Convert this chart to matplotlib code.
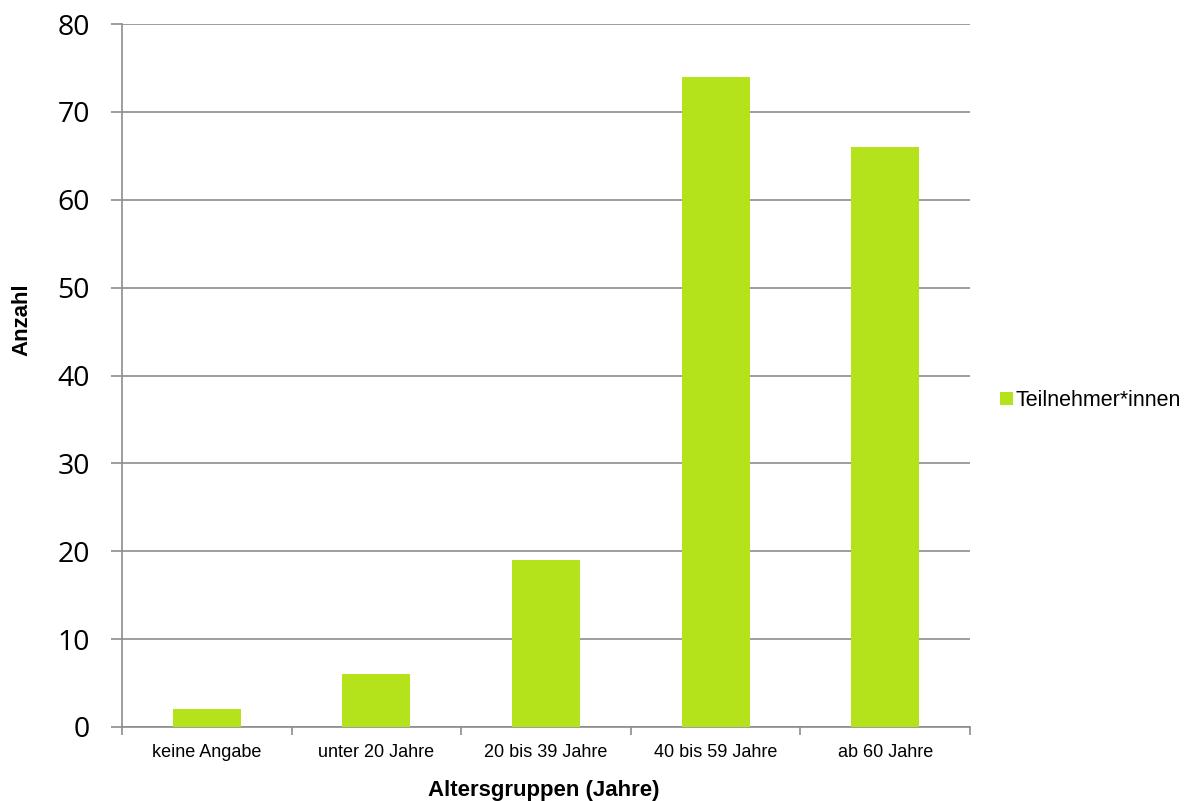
import numpy as np
import matplotlib.pyplot as plt
from matplotlib.patches import Patch

categories = ['keine Angabe', 'unter 20 Jahre', '20 bis 39 Jahre', '40 bis 59 Jahre', 'ab 60 Jahre']
values = [2, 6, 19, 74, 66]
series_name = 'Teilnehmer*innen'

bar_color = '#b5e31b'
grid_color = '#8c8c8c'

fig = plt.figure(figsize=(12.03, 8.01), dpi=100)
ax = fig.add_axes([0.1014, 0.0924, 0.7049, 0.8776])

x = np.arange(len(categories))
ax.bar(x, values, width=0.4, color=bar_color, zorder=3)

ax.set_xlim(-0.5, len(categories) - 0.5)
ax.set_ylim(0, 80)
ax.set_yticks(np.arange(0, 81, 10))
ax.set_yticklabels([str(v) for v in range(0, 81, 10)], fontsize=20.5, family='Open Sans')

# category boundaries get the tick marks, labels sit in the middle
ax.set_xticks(np.arange(-0.5, len(categories)))
ax.set_xticklabels([])
ax.set_xticks(x, minor=True)
ax.set_xticklabels(categories, minor=True, fontsize=13, family='Liberation Sans')
ax.tick_params(axis='x', which='minor', length=0, pad=12)
ax.tick_params(axis='x', which='major', length=6, color=grid_color, width=1.2)
ax.tick_params(axis='y', length=8, color=grid_color, width=1.2, pad=15)

ax.grid(axis='y', color=grid_color, linewidth=1.2, zorder=0)
for s in ['top', 'right']:
    ax.spines[s].set_visible(False)
for s in ['left', 'bottom']:
    ax.spines[s].set_color(grid_color)
    ax.spines[s].set_linewidth(1.2)

ax.set_ylabel('Anzahl', fontsize=16, fontweight='bold', family='Liberation Sans')
ax.yaxis.set_label_coords(-0.106, 0.579)
ax.set_xlabel('Altersgruppen (Jahre)', fontsize=16, fontweight='bold', family='Liberation Sans')
ax.xaxis.set_label_coords(0.497, -0.076)

handles = [Patch(facecolor=bar_color, label=series_name)]
fig.legend(handles=handles, loc='center left', bbox_to_anchor=(0.815, 0.50), frameon=False,
           prop={'family': 'Liberation Sans', 'size': 15.5}, handlelength=0.6, handleheight=0.6,
           handletextpad=0.15)

fig.savefig('out.png', dpi=100)
